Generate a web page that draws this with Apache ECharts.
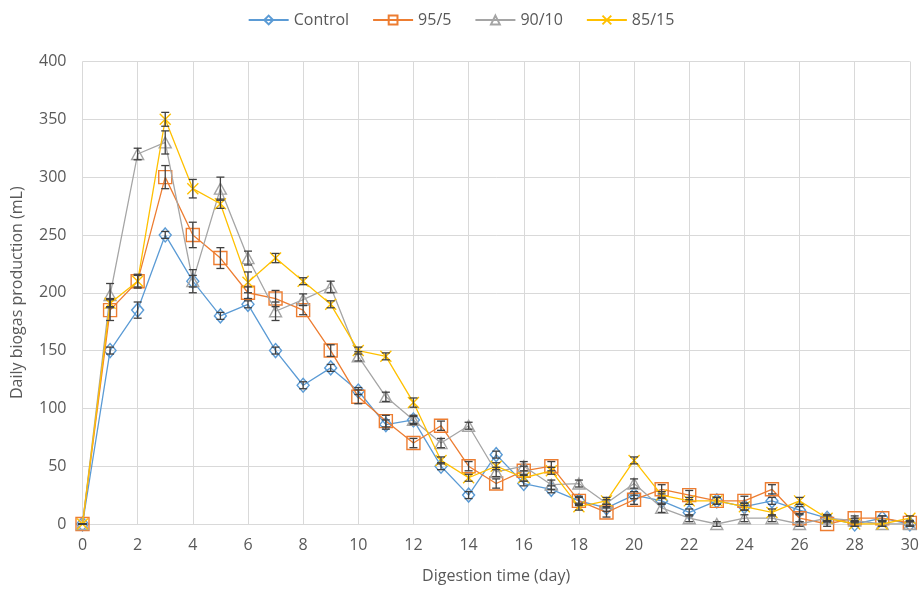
<!DOCTYPE html>
<html>
<head>
<meta charset="utf-8">
<script src="https://cdn.jsdelivr.net/npm/echarts@6/dist/echarts.min.js"></script>
<style>
html,body{margin:0;padding:0;background:#fff;}
#chart{width:922px;height:589px;}
</style>
</head>
<body>
<div id="chart"></div>
<script>
// Digestion days
var days = [0,1,2,3,4,5,6,7,8,9,10,11,12,13,14,15,16,17,18,19,20,21,22,23,24,25,26,27,28,29,30];
var seriesNames = ['Control','95/5','90/10','85/15'];

// Daily biogas production (mL)
var control = [0,150,185,250,210,180,190,150,120,135,115,86,90,50,25,60,35,30,20,14,25,20,10,20,15,20,12,5,0,5,0];
var mix95 = [0,185,210,300,250,230,200,195,185,150,110,89,70,85,50,35,46,50,20,10,21,30,25,20,20,30,5,0,5,5,1];
var mix90 = [0,198,320,330,210,290,230,184,194,205,145,110,90,70,85,45,50,34,35,18,35,14,5,0,5,5,0,5,3,0,0];
var mix85 = [0,191,210,350,290,277,209,230,210,190,150,145,105,55,40,50,40,46,15,20,55,25,20,20,15,10,20,5,0,0,5];

// Error bar half-widths (mL)
var errControl = [0,3,7,3,5,3,3,3,3,3,3,4,3,3,3,3,2,3,3,3,3,3,3,3,3,3,3,2,2,2,2];
var err95 = [0,9,6,10,11,9,5,7,4,5,6,5,4,4,4,4,4,4,4,4,4,4,4,3,4,4,3,2,2,2,2];
var err90 = [0,10,5,10,10,10,6,8,5,5,4,4,4,4,3,4,4,4,3,3,4,4,3,2,3,3,2,3,2,2,2];
var err85 = [0,4,5,6,8,4,9,4,3,3,3,3,4,3,3,3,3,3,3,3,3,3,3,3,3,3,3,3,2,2,2];

var colors = ['#5B9BD5','#ED7D31','#A5A5A5','#FFC000'];
var values = [control, mix95, mix90, mix85];
var errors = [errControl, err95, err90, err85];
var symbols = ['diamond','rect','triangle','path://M0,0L10,10M0,10L10,0'];
var symbolSizes = [[12,14],[13,13],[12,11],[11,11]];

function pairs(vals){ return days.map(function(d,i){ return [d, vals[i]]; }); }
function errData(vals, errs){ return days.map(function(d,i){ return [d, vals[i]-errs[i], vals[i]+errs[i]]; }); }

var textColor = '#595959';
var fontFamily = '"Open Sans", "Noto Sans", sans-serif';

var series = [];
seriesNames.forEach(function(name, k){
  series.push({
    name: name,
    type: 'line',
    data: pairs(values[k]),
    symbol: symbols[k],
    symbolSize: symbolSizes[k],
    showAllSymbol: true,
    z: 2 + k,
    lineStyle: {color: colors[k], width: 1.3},
    itemStyle: {color: 'rgba(255,255,255,0)', borderColor: colors[k], borderWidth: 1.4},
    emphasis: {disabled: true},
    animation: false
  });
});
seriesNames.forEach(function(name, k){
  series.push({
    name: name + ' error',
    type: 'custom',
    data: errData(values[k], errors[k]),
    z: 10,
    silent: true,
    animation: false,
    renderItem: function(params, api){
      var x = api.value(0);
      var lo = api.coord([x, api.value(1)]);
      var hi = api.coord([x, api.value(2)]);
      var cw = 4;
      var st = {stroke: '#404040', lineWidth: 1.3};
      return {type: 'group', children: [
        {type:'line', shape:{x1:lo[0], y1:lo[1], x2:hi[0], y2:hi[1]}, style: st},
        {type:'line', shape:{x1:lo[0]-cw, y1:lo[1], x2:lo[0]+cw, y2:lo[1]}, style: st},
        {type:'line', shape:{x1:hi[0]-cw, y1:hi[1], x2:hi[0]+cw, y2:hi[1]}, style: st}
      ]};
    }
  });
});

var chart = echarts.init(document.getElementById('chart'), null, {renderer: 'canvas'});
chart.setOption({
  animation: false,
  backgroundColor: '#fff',
  textStyle: {fontFamily: fontFamily},
  legend: {
    data: seriesNames,
    top: 7,
    left: 'center',
    itemWidth: 40,
    itemHeight: 11,
    itemGap: 23,
    textStyle: {color: textColor, fontSize: 16, fontFamily: fontFamily}
  },
  grid: {left: 82.5, right: 11.5, top: 61.5, bottom: 65, containLabel: false},
  xAxis: {
    type: 'value',
    min: 0, max: 30, interval: 2,
    name: 'Digestion time (day)',
    nameLocation: 'middle',
    nameGap: 44,
    nameTextStyle: {color: textColor, fontSize: 16, fontFamily: fontFamily},
    axisLine: {show: true, lineStyle: {color: '#d9d9d9', width: 1}},
    axisTick: {show: false},
    axisLabel: {color: textColor, fontSize: 16, margin: 13, fontFamily: fontFamily},
    splitLine: {show: true, lineStyle: {color: '#d9d9d9', width: 1}}
  },
  yAxis: {
    type: 'value',
    min: 0, max: 400, interval: 50,
    name: 'Daily biogas production (mL)',
    nameLocation: 'middle',
    nameGap: 57,
    nameTextStyle: {color: textColor, fontSize: 16, fontFamily: fontFamily},
    axisLine: {show: false},
    axisTick: {show: false},
    axisLabel: {color: textColor, fontSize: 16, margin: 16, fontFamily: fontFamily},
    splitLine: {show: true, lineStyle: {color: '#d9d9d9', width: 1}}
  },
  series: series
});
</script>
</body>
</html>
